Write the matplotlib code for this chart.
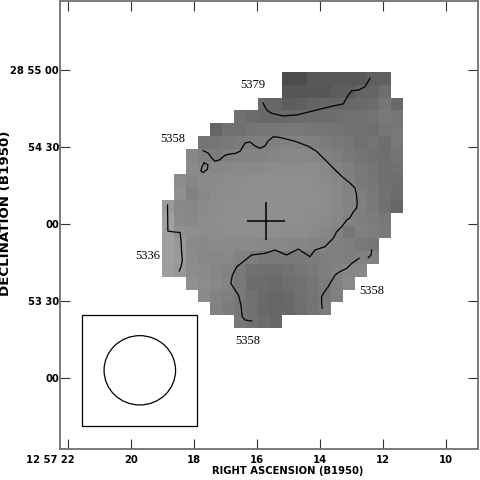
import numpy as np
import matplotlib
matplotlib.use("Agg")
import matplotlib.pyplot as plt
from matplotlib.patches import Ellipse, Rectangle
from matplotlib.transforms import ScaledTranslation

# grey level of each map cell (0 black .. 255 white), north row first, '.' = no data
map_rows = [
    ". . . . . . . . . . 76 76 88 88 88 88 90 95 98 .",
    ". . . . . . . . . . 86 86 86 86 92 92 100 100 110 .",
    ". . . . . . . . 104 102 92 96 100 102 102 104 106 108 118 106",
    ". . . . . . 112 108 106 104 106 108 108 108 110 112 112 116 122 118",
    ". . . . 102 114 112 116 118 118 120 120 118 118 116 114 114 110 118 120",
    ". . . 116 118 122 124 126 126 128 130 130 128 124 120 118 112 116 110 120",
    ". . 136 128 124 128 130 132 132 134 136 136 134 130 126 120 116 112 110 116",
    ". . 138 136 134 136 138 138 138 140 140 140 140 136 132 126 120 116 110 114",
    ". 140 134 138 138 140 140 142 142 142 142 142 142 138 134 128 122 118 112 110",
    ". 144 128 136 140 140 142 144 144 144 144 144 142 140 136 132 126 120 114 108",
    "154 136 134 138 140 142 142 144 144 144 144 142 142 140 136 132 128 122 112 102",
    "160 138 136 140 142 142 144 144 144 144 142 142 140 138 134 130 126 124 120 .",
    "160 144 142 140 140 142 142 142 142 142 140 140 138 134 130 118 128 126 122 .",
    "160 152 138 136 138 138 138 138 136 136 134 134 132 130 128 126 122 118 . .",
    "160 154 140 136 134 136 130 126 122 120 120 122 124 126 128 126 130 132 . .",
    "158 152 140 138 134 132 122 112 110 110 114 118 122 126 130 134 136 . . .",
    ". . 144 140 136 132 120 108 108 106 110 114 118 124 128 138 . . . .",
    ". . . 138 132 128 122 114 106 102 106 112 116 122 128 . . . . .",
    ". . . . 130 124 118 112 106 102 104 110 116 124 . . . . . .",
    ". . . . . . 120 114 108 104 . . . . . . . . . .",
]
map_ra = (19.02, 11.40)   # RA seconds past 12h57m at west / east map edge
map_dec = (19.5, 119.2)   # arcsec past 28d53m00s at south / north map edge

# velocity contours (RA s, Dec arcsec)
c5379 = [(15.81, 107.1), (15.69, 104.4), (15.53, 103.1), (15.17, 102.1), (14.74, 102.5),
         (14.21, 104.1), (13.68, 105.7), (13.26, 106.8), (13.10, 110.3), (12.99, 111.9),
         (12.78, 112.2), (12.57, 113.5), (12.41, 116.8)]
c5358_main = [(17.71, 88.56), (17.55, 87.66), (17.44, 85.71), (17.33, 84.43), (17.18, 85.05),
              (17.02, 86.77), (16.86, 87.27), (16.70, 87.47), (16.54, 88.32), (16.38, 91.56),
              (16.22, 91.95), (16.06, 90.39), (15.91, 89.49), (15.75, 90.39), (15.65, 92.34),
              (15.48, 94.01), (15.27, 93.70), (14.79, 92.22), (14.37, 90.27), (14.11, 88.32),
              (13.84, 85.05), (13.58, 81.82), (13.31, 78.58), (13.05, 75.97), (12.89, 74.03),
              (12.84, 71.30), (12.82, 68.06), (12.84, 66.23), (12.94, 64.79), (13.05, 62.34),
              (13.15, 61.56), (13.31, 58.95), (13.47, 57.00), (13.58, 54.43), (13.84, 51.16),
              (14.16, 49.87), (14.32, 47.26), (14.69, 50.26), (15.06, 47.92), (15.43, 49.87),
              (15.75, 48.58), (16.17, 47.92), (16.44, 45.31), (16.64, 43.36), (16.78, 40.13),
              (16.83, 36.90), (16.70, 34.29), (16.59, 32.34), (16.51, 28.44), (16.47, 23.88),
              (16.38, 22.60), (16.17, 22.21)]
c5358_loop = [(17.68, 83.77), (17.56, 83.18), (17.57, 81.43), (17.71, 80.06), (17.78, 80.65),
              (17.75, 82.21), (17.68, 83.77)]
c5358_se = [(12.76, 46.64), (12.99, 44.69), (13.15, 42.74), (13.37, 41.42), (13.52, 40.13),
            (13.65, 37.52), (13.74, 35.57), (13.86, 33.62), (13.95, 31.68), (13.95, 29.61),
            (13.93, 27.16)]
c5358_tick = [(12.36, 49.87), (12.38, 47.92), (12.47, 46.87)]
c5336 = [(18.84, 67.40), (18.83, 57.27), (18.71, 57.00), (18.44, 56.69), (18.41, 53.10),
         (18.39, 48.58), (18.37, 45.97), (18.41, 43.36), (18.47, 41.69)]
contours = [c5379, c5358_main, c5358_loop, c5358_se, c5358_tick, c5336]

contour_labels = ["5379", "5358", "5336", "5358", "5358"]
label_ra = [16.14, 18.67, 19.46, 12.35, 16.29]
label_dec = [114.2, 93.2, 47.5, 33.9, 14.4]

centre_ra, centre_dec = 15.71, 61.2
beam_ra, beam_dec = 19.72, 3.0
beam_w, beam_h = 2.27, 27.0
box_ra = (21.55, 17.90)
box_dec = (-18.6, 24.5)

ra_ticks = [22, 20, 18, 16, 14, 12, 10]
ra_labels = ["12 57 22", "20", "18", "16", "14", "12", "10"]
dec_ticks = [0, 30, 60, 90, 120]
dec_labels = ["00", "53 30", "00", "54 30", "28 55 00"]

plt.rcParams["font.family"] = ["DejaVu Sans"]

grid = np.array([[np.nan if v == "." else float(v) for v in row.split()] for row in map_rows])

fig = plt.figure(figsize=(4.8, 4.8), dpi=100)
ax = fig.add_axes([60 / 480, 31 / 480, 418.3 / 480, 448 / 480])

ax.imshow(grid, cmap="gray", vmin=0, vmax=255, interpolation="nearest", aspect="auto",
          origin="upper", extent=(map_ra[0], map_ra[1], map_dec[0], map_dec[1]))

for line in contours:
    xs, ys = zip(*line)
    ax.plot(xs, ys, color="black", lw=0.9)

for txt, x, y in zip(contour_labels, label_ra, label_dec):
    ax.text(x, y, txt, ha="center", va="center", fontsize=9, family="Liberation Serif")

ax.plot(centre_ra, centre_dec, marker="+", ms=27, mew=1.1, color="black")

ax.add_patch(Rectangle((box_ra[0], box_dec[0]), box_ra[1] - box_ra[0], box_dec[1] - box_dec[0],
                       fill=False, ec="black", lw=0.9))
ax.add_patch(Ellipse((beam_ra, beam_dec), beam_w, beam_h, fill=False, ec="black", lw=0.9))

ax.set_xlim(22.254, 8.975)
ax.set_ylim(-27.66, 146.88)

ax.set_xticks(ra_ticks)
ax.set_xticklabels(ra_labels, fontweight="bold")
ax.set_yticks(dec_ticks)
ax.set_yticklabels(dec_labels, fontweight="bold")
ax.tick_params(direction="in", length=7.5, width=0.8, color="#333333",
               top=True, right=True, labelsize=7.2)
ax.tick_params(axis="x", pad=4.6)
ax.tick_params(axis="y", pad=0.8)
for s in ax.spines.values():
    s.set_color("#707070")
    s.set_linewidth(1.3)

first = ax.xaxis.get_major_ticks()[0].label1
first.set_horizontalalignment("right")
first.set_transform(first.get_transform() + ScaledTranslation(4.6 / 72, 0, fig.dpi_scale_trans))

ax.set_xlabel("RIGHT ASCENSION (B1950)", fontsize=7.2, fontweight="bold", va="center")
ax.xaxis.set_label_coords(0.545, -0.0495)
ax.set_ylabel("DECLINATION (B1950)", fontsize=9.6, fontweight="bold", va="center")
ax.yaxis.set_label_coords(-0.131, 0.526)

fig.savefig("out.png", dpi=100)
